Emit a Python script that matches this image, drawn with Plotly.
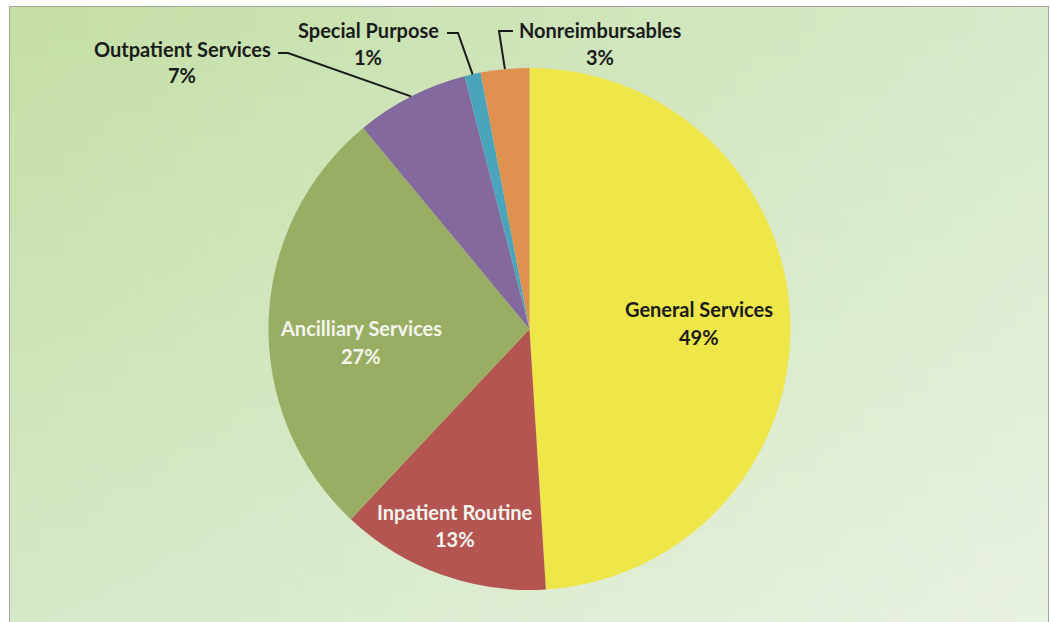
import base64
import math
import struct
import zlib

import plotly.graph_objects as go

# ---- data -------------------------------------------------------------
categories = ["General Services", "Inpatient Routine", "Ancilliary Services",
              "Outpatient Services", "Special Purpose", "Nonreimbursables"]
shares = [49, 13, 27, 7, 1, 3]
slice_colors = ["#EFE64A", "#B45552", "#9AAE63", "#84699F", "#4AA5BC", "#DF9150"]

# ---- canvas geometry (pixels) ----------------------------------------
W, H = 1051, 622
CX, CY, R = 529.5, 329.0, 261.0          # pie centre / radius
FRAME = (10, 7, 1048, 640)               # x0, y0, x1, y1 of the chart frame

FONT = "Lato"
FS = 20


def gradient_png(w, h, tl, tr, bl, br):
    """Build a small RGB PNG with a bilinear colour blend between four corners."""
    rows = []
    for j in range(h):
        v = j / (h - 1)
        row = bytearray([0])
        for i in range(w):
            u = i / (w - 1)
            for k in range(3):
                top = tl[k] * (1 - u) + tr[k] * u
                bot = bl[k] * (1 - u) + br[k] * u
                row.append(int(round(top * (1 - v) + bot * v)))
        rows.append(bytes(row))
    raw = b"".join(rows)

    def chunk(tag, data):
        c = struct.pack(">I", len(data)) + tag + data
        return c + struct.pack(">I", zlib.crc32(tag + data) & 0xFFFFFFFF)

    png = b"\x89PNG\r\n\x1a\n"
    png += chunk(b"IHDR", struct.pack(">IIBBBBB", w, h, 8, 2, 0, 0, 0))
    png += chunk(b"IDAT", zlib.compress(raw, 9))
    png += chunk(b"IEND", b"")
    return "data:image/png;base64," + base64.b64encode(png).decode()


bg = gradient_png(48, 32,
                  (197, 223, 166), (216, 234, 202),
                  (214, 233, 200), (233, 242, 225))

# ---- pie ---------------------------------------------------------------
fig = go.Figure()
fig.add_trace(go.Pie(
    labels=categories,
    values=shares,
    sort=False,
    direction="clockwise",
    rotation=0,
    marker=dict(colors=slice_colors, line=dict(width=0)),
    textinfo="none",
    hoverinfo="label+percent",
    showlegend=False,
    domain=dict(x=[(CX - R) / W, (CX + R) / W],
                y=[(H - CY - R) / H, (H - CY + R) / H]),
))

total = sum(shares)
pct = [f"{round(100 * v / total)}%" for v in shares]

# mid-angle of every slice, measured clockwise from 12 o'clock
mid_angles = []
acc = 0.0
for v in shares:
    mid_angles.append(360.0 * (acc + v / 2) / total)
    acc += v


def edge_point(idx, frac=1.0):
    a = math.radians(mid_angles[idx])
    return CX + frac * R * math.sin(a), CY - frac * R * math.cos(a)


annotations = []
shapes = []


def add_label(idx, x, y_name, y_pct, color):
    annotations.append(dict(x=x, y=y_name, xref="x", yref="y", text=categories[idx],
                            showarrow=False, xanchor="center", yanchor="middle",
                            font=dict(family=FONT, size=FS, color=color, weight="bold")))
    annotations.append(dict(x=x, y=y_pct, xref="x", yref="y", text=pct[idx],
                            showarrow=False, xanchor="center", yanchor="middle",
                            font=dict(family=FONT, size=FS, color=color, weight="bold")))


# labels drawn inside the large slices
add_label(0, 699, 309, 337, "#1b1b1b")
add_label(1, 455, 512, 539, "#f4f4f0")
add_label(2, 361, 328, 356, "#f4f4f0")

# labels outside the small slices, with elbowed leader lines
add_label(3, 182, 49, 75, "#1b1b1b")
add_label(4, 368, 30, 57, "#1b1b1b")
add_label(5, 600, 30, 57, "#1b1b1b")

leaders = {
    3: [(278, 53), (288, 53)],
    4: [(447, 33), (458, 33)],
    5: [(513, 31), (499, 31)],
}
for idx, pts in leaders.items():
    ex, ey = edge_point(idx)
    path = f"M {pts[0][0]},{pts[0][1]} L {pts[1][0]},{pts[1][1]} L {ex:.1f},{ey:.1f}"
    shapes.append(dict(type="path", path=path, xref="x", yref="y",
                       line=dict(color="#1b1b1b", width=2), layer="above"))

# chart frame
shapes.append(dict(type="rect", xref="x", yref="y",
                   x0=FRAME[0], y0=FRAME[1], x1=FRAME[2], y1=FRAME[3],
                   line=dict(color="#a3a3a3", width=2), layer="below"))

fig.update_layout(
    width=W, height=H,
    margin=dict(l=0, r=0, t=0, b=0),
    paper_bgcolor="white",
    plot_bgcolor="rgba(0,0,0,0)",
    xaxis=dict(range=[0, W], visible=False, domain=[0, 1], fixedrange=True),
    yaxis=dict(range=[H, 0], visible=False, domain=[0, 1], fixedrange=True),
    images=[dict(source=bg, xref="x", yref="y",
                 x=FRAME[0], y=FRAME[1],
                 sizex=FRAME[2] - FRAME[0], sizey=FRAME[3] - FRAME[1],
                 xanchor="left", yanchor="top", sizing="stretch", layer="below")],
    annotations=annotations,
    shapes=shapes,
)

fig.write_html("out.html")
